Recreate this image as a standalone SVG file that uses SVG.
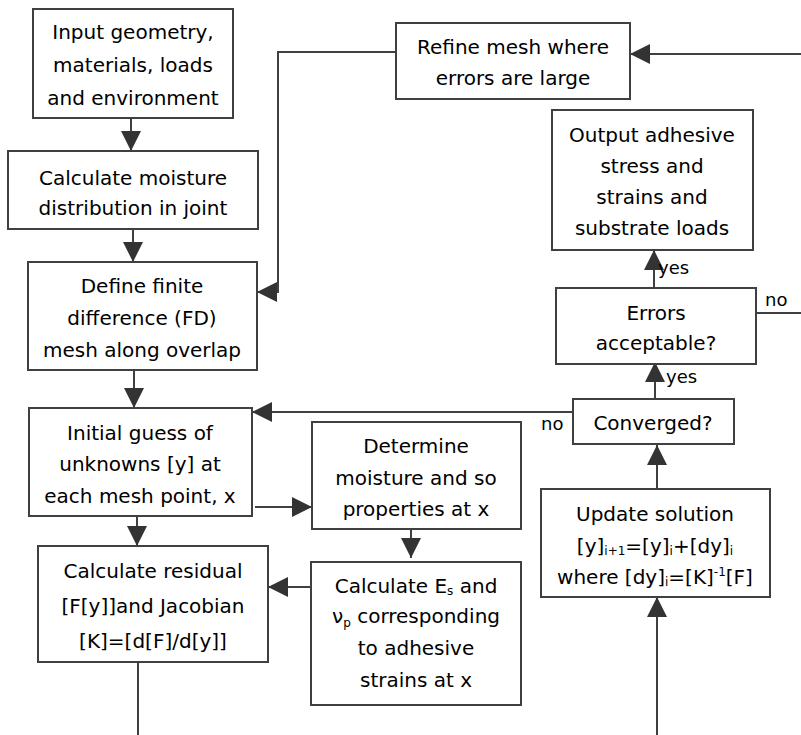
<svg xmlns="http://www.w3.org/2000/svg" width="801" height="735" viewBox="0 0 801 735">
<style>
  .box { fill: #ffffff; stroke: #404040; stroke-width: 2; }
  .t { font-family: "DejaVu Sans", "Noto Sans", sans-serif; font-size: 20px; fill: #000; text-anchor: middle; }
  .lbl { font-family: "DejaVu Sans", "Noto Sans", sans-serif; font-size: 18px; fill: #000; }
  .sm { font-size: 12px; }
  .c { fill: none; stroke: #404040; stroke-width: 2; }
  .a { marker-end: url(#ah); }
</style>
<defs>
  <marker id="ah" markerUnits="userSpaceOnUse" markerWidth="20" markerHeight="20" refX="20" refY="10" orient="auto" viewBox="0 0 20 20">
    <path d="M0,0 L20,10 L0,20 Z" fill="#333333"/>
  </marker>
</defs>
<rect width="801" height="735" fill="#ffffff"/>

<g id="connectors">
  <path class="c a" d="M131,118 V151"/>
  <path class="c a" d="M133,229 V262"/>
  <path class="c a" d="M134,370 V408"/>
  <path class="c a" d="M137,516 V546"/>
  <path class="c a" d="M255,507 H312"/>
  <path class="c a" d="M411,529 V558"/>
  <path class="c a" d="M311,587 H268"/>
  <path class="c" d="M138,662 V735"/>
  <path class="c a" d="M657,735 V597"/>
  <path class="c a" d="M657,489 V445"/>
  <path class="c a" d="M655,399 V362"/>
  <path class="c a" d="M654,288 V250"/>
  <path class="c" d="M756,313 H801"/>
  <path class="c a" d="M801,54 H630"/>
  <path class="c a" d="M396,52 H278 V292 H257"/>
  <path class="c a" d="M573,412 H252"/>
  <text class="lbl" x="658" y="274">yes</text>
  <text class="lbl" x="666" y="383">yes</text>
  <text class="lbl" x="765" y="306">no</text>
  <text class="lbl" x="541" y="430">no</text>
</g>

<g id="n-input">
  <rect class="box" x="33" y="9" width="200" height="109"/>
  <text class="t" x="133" y="39">Input geometry,</text>
  <text class="t" x="133" y="72">materials, loads</text>
  <text class="t" x="133" y="105">and environment</text>
</g>

<g id="n-moisture">
  <rect class="box" x="8" y="151" width="250" height="78"/>
  <text class="t" x="133" y="185">Calculate moisture</text>
  <text class="t" x="133" y="215">distribution in joint</text>
</g>

<g id="n-mesh">
  <rect class="box" x="28" y="262" width="229" height="108"/>
  <text class="t" x="142" y="293">Define finite</text>
  <text class="t" x="142" y="325">difference (FD)</text>
  <text class="t" x="142" y="357">mesh along overlap</text>
</g>

<g id="n-guess">
  <rect class="box" x="29" y="408" width="223" height="108"/>
  <text class="t" x="140" y="440">Initial guess of</text>
  <text class="t" x="140" y="471">unknowns [y] at</text>
  <text class="t" x="140" y="503">each mesh point, x</text>
</g>

<g id="n-residual">
  <rect class="box" x="38" y="546" width="230" height="116"/>
  <text class="t" x="153" y="578">Calculate residual</text>
  <text class="t" x="153" y="613">[F[y]]and Jacobian</text>
  <text class="t" x="153" y="648">[K]=[d[F]/d[y]]</text>
</g>

<g id="n-determine">
  <rect class="box" x="312" y="422" width="209" height="107"/>
  <text class="t" x="416" y="453">Determine</text>
  <text class="t" x="416" y="485">moisture and so</text>
  <text class="t" x="416" y="516">properties at x</text>
</g>

<g id="n-calces">
  <rect class="box" x="311" y="562" width="210" height="143"/>
  <text class="t" x="416" y="593">Calculate E<tspan class="sm" dy="2">s</tspan><tspan dy="-2"> and</tspan></text>
  <text class="t" x="416" y="623">ν<tspan class="sm" dy="4">p</tspan><tspan dy="-4"> corresponding</tspan></text>
  <text class="t" x="416" y="655">to adhesive</text>
  <text class="t" x="416" y="687">strains at x</text>
</g>

<g id="n-update">
  <rect class="box" x="541" y="489" width="229" height="108"/>
  <text class="t" x="655" y="521">Update solution</text>
  <text class="t" x="655" y="553">[y]<tspan class="sm" dy="2">i+1</tspan><tspan dy="-2">=[y]</tspan><tspan class="sm" dy="2">i</tspan><tspan dy="-2">+[dy]</tspan><tspan class="sm" dy="2">i</tspan></text>
  <text class="t" x="655" y="584">where [dy]<tspan class="sm" dy="2">i</tspan><tspan dy="-2">=[K]</tspan><tspan class="sm" dy="-8">-1</tspan><tspan dy="8">[F]</tspan></text>
</g>

<g id="n-converged">
  <rect class="box" x="573" y="399" width="161" height="45"/>
  <text class="t" x="653" y="430">Converged?</text>
</g>

<g id="n-errors">
  <rect class="box" x="556" y="288" width="200" height="76"/>
  <text class="t" x="656" y="320">Errors</text>
  <text class="t" x="656" y="350">acceptable?</text>
</g>

<g id="n-output">
  <rect class="box" x="552" y="110" width="201" height="140"/>
  <text class="t" x="652" y="142">Output adhesive</text>
  <text class="t" x="652" y="173">stress and</text>
  <text class="t" x="652" y="204">strains and</text>
  <text class="t" x="652" y="235">substrate loads</text>
</g>

<g id="n-refine">
  <rect class="box" x="396" y="23" width="234" height="76"/>
  <text class="t" x="513" y="54">Refine mesh where</text>
  <text class="t" x="513" y="85">errors are large</text>
</g>
</svg>
